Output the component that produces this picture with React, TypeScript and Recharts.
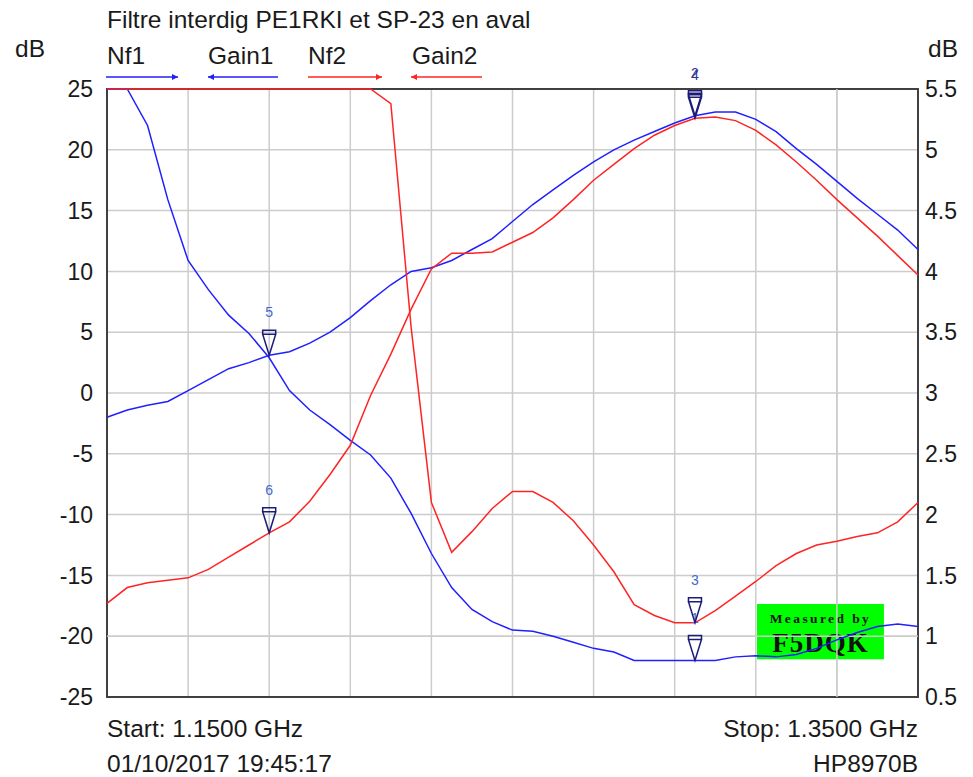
import React from "react";
import { LineChart, Line, XAxis, YAxis, CartesianGrid, ReferenceDot, ReferenceArea, ReferenceLine } from "recharts";

// sweep 1.15 -> 1.35 GHz, HP8970B readings
const freqGHz = [
  1.150, 1.155, 1.160, 1.165, 1.170, 1.175, 1.180, 1.185, 1.190, 1.195,
  1.200, 1.205, 1.210, 1.215, 1.220, 1.225, 1.230, 1.235, 1.240, 1.245,
  1.250, 1.255, 1.260, 1.265, 1.270, 1.275, 1.280, 1.285, 1.290, 1.295,
  1.300, 1.305, 1.310, 1.315, 1.320, 1.325, 1.330, 1.335, 1.340, 1.345,
  1.350,
];

// noise figure, right axis (clamped at 5.5 by the instrument)
const nf1Db = [
  5.5, 5.5, 5.2, 4.59, 4.09, 3.85, 3.64, 3.49, 3.29, 3.02,
  2.86, 2.74, 2.61, 2.49, 2.30, 2.01, 1.68, 1.40, 1.22, 1.12,
  1.05, 1.04, 1.00, 0.95, 0.90, 0.87, 0.80, 0.80, 0.80, 0.80,
  0.80, 0.83, 0.84, 0.83, 0.85, 0.90, 0.97, 1.03, 1.08, 1.10,
  1.08,
];
const nf2Db = [
  5.5, 5.5, 5.5, 5.5, 5.5, 5.5, 5.5, 5.5, 5.5, 5.5,
  5.5, 5.5, 5.5, 5.5, 5.38, 3.54, 2.10, 1.69, 1.86, 2.05,
  2.19, 2.19, 2.10, 1.95, 1.75, 1.53, 1.26, 1.17, 1.11, 1.11,
  1.21, 1.33, 1.45, 1.58, 1.68, 1.75, 1.78, 1.82, 1.85, 1.94,
  2.10,
];

// gain, left axis
const gain1Db = [
  -2.0, -1.4, -1.0, -0.7, 0.2, 1.1, 2.0, 2.5, 3.1, 3.4,
  4.1, 5.0, 6.2, 7.6, 8.9, 10.0, 10.3, 10.9, 11.8, 12.7,
  14.1, 15.5, 16.7, 17.9, 19.0, 20.0, 20.8, 21.5, 22.2, 22.8,
  23.1, 23.1, 22.5, 21.5, 20.1, 18.8, 17.4, 16.0, 14.7, 13.4,
  11.8,
];
const gain2Db = [
  -17.3, -16.0, -15.6, -15.4, -15.2, -14.5, -13.5, -12.5, -11.5, -10.6,
  -8.9, -6.7, -4.3, -0.2, 3.2, 6.9, 10.2, 11.5, 11.5, 11.6,
  12.4, 13.2, 14.4, 15.9, 17.5, 18.8, 20.1, 21.2, 22.0, 22.6,
  22.7, 22.4, 21.6, 20.4, 19.0, 17.5, 15.9, 14.4, 12.9, 11.3,
  9.7,
];

const freqTicks = [1.15, 1.17, 1.19, 1.21, 1.23, 1.25, 1.27, 1.29, 1.31, 1.33, 1.35];
const gainTicks = [-25, -20, -15, -10, -5, 0, 5, 10, 15, 20, 25];
const nfTicks = [0.5, 1, 1.5, 2, 2.5, 3, 3.5, 4, 4.5, 5, 5.5];

// markers: label, series, sweep index
const markerLabels = ["1", "3", "5", "6", "2", "4"];
const markerSeries = ["nf1", "nf2", "gain1", "gain2", "gain1", "gain2"];
const markerIndex = [29, 29, 8, 8, 29, 29];

const BLUE = "#2020ff";
const RED = "#ff2424";
const GRID = "#cccccc";
const FONT = '"Liberation Sans", Arial, sans-serif';
const SERIF = '"Liberation Serif", "Times New Roman", serif';

const seriesValues: Record<string, number[]> = { nf1: nf1Db, nf2: nf2Db, gain1: gain1Db, gain2: gain2Db };

const data = freqGHz.map((f, i) => ({
  f,
  nf1: nf1Db[i],
  gain1: gain1Db[i],
  nf2: nf2Db[i],
  gain2: gain2Db[i],
}));

const markerShape = (label: string) => (props: any) => {
  const { cx, cy } = props;
  const navyLabel = label === "2" || label === "4";
  return (
    <g>
      <path
        d={`M${cx - 6.5},${cy - 25} h13 v4 h-13 z M${cx - 6.5},${cy - 21} L${cx + 6.5},${cy - 21} L${cx},${cy} Z`}
        fill="none"
        stroke="#1c1c78"
        strokeWidth={1.5}
      />
      <text
        x={cx}
        y={cy - 38}
        textAnchor="middle"
        fontSize={14}
        fontFamily={FONT}
        fill={navyLabel ? "#2b3596" : "#4169d0"}
      >
        {label}
      </text>
    </g>
  );
};

const stampBox = (props: any) => {
  const { x, y, width, height } = props;
  return <rect x={x} y={y} width={width} height={height} fill="#00ff00" />;
};

const stampText = (props: any) => {
  const { x, y, width } = props;
  return (
    <g>
      <text x={x + width / 2} y={y + 19} textAnchor="middle" fontSize={13.5} fontWeight="bold"
        fontFamily={SERIF} letterSpacing={2.4} fill="#111">
        Measured by
      </text>
      <text x={x + width / 2} y={y + 48} textAnchor="middle" fontSize={27} fontWeight="bold"
        fontFamily={SERIF} letterSpacing={1} fill="#111">
        F5DQK
      </text>
    </g>
  );
};

function Arrow({ x1, x2, y, color, right }: { x1: number; x2: number; y: number; color: string; right: boolean }) {
  const tip = right ? x2 : x1;
  const d = right ? -1 : 1;
  return (
    <g>
      <line x1={x1} y1={y} x2={x2} y2={y} stroke={color} strokeWidth={1.5} />
      <path d={`M${tip},${y} L${tip + d * 6},${y - 3} L${tip + d * 6},${y + 3} Z`} fill={color} />
    </g>
  );
}

export default function App() {
  const txt = { fontFamily: FONT, fontSize: 24.5, fill: "#1a1a1a" };
  return (
    <div style={{ position: "absolute", left: 0, top: 0, width: 973, height: 777, background: "#fff" }}>
      <LineChart width={973} height={777} data={data} margin={{ top: 89, right: 0, bottom: 80, left: 47 }}>
        <XAxis dataKey="f" type="number" domain={[1.15, 1.35]} ticks={freqTicks} hide />
        <YAxis
          yAxisId="left"
          domain={[-25, 25]}
          ticks={gainTicks}
          interval={0}
          width={60}
          axisLine={false}
          tickLine={false}
          tickSize={0}
          tickMargin={14}
          tick={{ fontSize: 23, fill: "#1a1a1a", fontFamily: FONT }}
        />
        <YAxis
          yAxisId="right"
          orientation="right"
          domain={[0.5, 5.5]}
          ticks={nfTicks}
          interval={0}
          width={55}
          axisLine={false}
          tickLine={false}
          tickSize={0}
          tickMargin={7}
          tick={{ fontSize: 23, fill: "#1a1a1a", fontFamily: FONT }}
        />
        <CartesianGrid yAxisId="left" stroke={GRID} strokeWidth={1.5} />
        <ReferenceArea yAxisId="left" x1={1.3103} x2={1.3416} y1={-17.35} y2={-21.9} shape={stampBox} />
        {/* grid lines that run across the stamp stay visible on top of it */}
        <ReferenceLine yAxisId="left" x={1.33} stroke={GRID} strokeWidth={1.5} />
        <ReferenceLine yAxisId="left" y={-20} stroke={GRID} strokeWidth={1.5} />
        <ReferenceArea yAxisId="left" x1={1.3103} x2={1.3416} y1={-17.35} y2={-21.9} shape={stampText} />
        <ReferenceArea yAxisId="left" x1={1.15} x2={1.35} y1={-25} y2={25} fill="none" fillOpacity={0} stroke="#404040" strokeWidth={2} />
        <Line yAxisId="right" dataKey="nf1" type="linear" stroke={BLUE} strokeWidth={1.5} dot={false} isAnimationActive={false} />
        <Line yAxisId="left" dataKey="gain1" type="linear" stroke={BLUE} strokeWidth={1.5} dot={false} isAnimationActive={false} />
        <Line yAxisId="right" dataKey="nf2" type="linear" stroke={RED} strokeWidth={1.5} dot={false} isAnimationActive={false} />
        <Line yAxisId="left" dataKey="gain2" type="linear" stroke={RED} strokeWidth={1.5} dot={false} isAnimationActive={false} />
        {markerLabels.map((label, i) => {
          const s = markerSeries[i];
          const idx = markerIndex[i];
          return (
            <ReferenceDot
              key={label}
              yAxisId={s.startsWith("nf") ? "right" : "left"}
              x={freqGHz[idx]}
              y={seriesValues[s][idx]}
              ifOverflow="visible"
              shape={markerShape(label)}
            />
          );
        })}
      </LineChart>
      <svg width={973} height={777} style={{ position: "absolute", left: 0, top: 0, pointerEvents: "none" }}>
        <text x={107} y={28} {...txt}>Filtre interdig PE1RKI et SP-23 en aval</text>
        <text x={15} y={57} {...txt}>dB</text>
        <text x={928} y={57} {...txt}>dB</text>
        <text x={107} y={64} {...txt}>Nf1</text>
        <text x={208} y={64} {...txt}>Gain1</text>
        <text x={308} y={64} {...txt}>Nf2</text>
        <text x={412} y={64} {...txt}>Gain2</text>
        <Arrow x1={106} x2={178} y={77} color={BLUE} right />
        <Arrow x1={208} x2={278} y={77} color={BLUE} right={false} />
        <Arrow x1={308} x2={382} y={77} color={RED} right />
        <Arrow x1={411} x2={482} y={77} color={RED} right={false} />
        <text x={107} y={737} {...txt}>Start: 1.1500 GHz</text>
        <text x={918} y={737} textAnchor="end" {...txt}>Stop: 1.3500 GHz</text>
        <text x={107} y={772} {...txt}>01/10/2017 19:45:17</text>
        <text x={918} y={772} textAnchor="end" {...txt}>HP8970B</text>
      </svg>
    </div>
  );
}
